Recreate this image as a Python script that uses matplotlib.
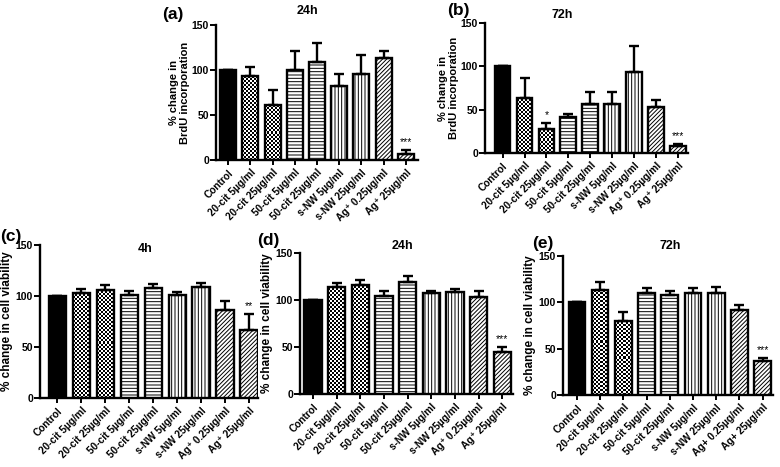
import numpy as np
import matplotlib
matplotlib.use('Agg')
import matplotlib.pyplot as plt

plt.rcParams['font.family'] = ['Liberation Sans', 'DejaVu Sans']
plt.rcParams['font.weight'] = 'bold'
plt.rcParams['hatch.linewidth'] = 0.7

groups = ['Control', '20-cit 5µg/ml', '20-cit 25µg/ml', '50-cit 5µg/ml', '50-cit 25µg/ml',
          's-NW 5µg/ml', 's-NW 25µg/ml', 'Ag⁺ 0.25µg/ml', 'Ag⁺ 25µg/ml']
groups_e = ['Control', '20-cit 5µg/ml', '20-cit 25µg/ml', '50-cit 5µg/ml', '50-cit 25µg/ml',
            's-NW 5µg/ml', 's-NW 25µg/ml', 'Ag+ 0.25µg/ml', 'Ag+ 25µg/ml']

# BrdU incorporation
brdu_24 = [100, 93, 61, 100, 109, 82, 95, 113, 7]
brdu_24_err = [0, 10.5, 17, 21.5, 20.5, 14, 22, 8, 4]
brdu_24_sig = ['', '', '', '', '', '', '', '', '***']

brdu_72 = [100, 64, 28, 41, 56, 57, 94, 53, 8]
brdu_72_err = [0, 23, 6.5, 4.5, 14, 13, 30, 8, 2.5]
brdu_72_sig = ['', '', '*', '', '', '', '', '', '***']

# cell viability
via_4 = [100, 103, 106, 101, 107.5, 100.5, 109, 86, 67]
via_4_err = [0, 3.5, 5, 4, 4.5, 3.3, 4, 9, 15]
via_4_sig = ['', '', '', '', '', '', '', '', '**']

via_24 = [100, 114, 116, 104.5, 119.5, 107, 108.5, 103.5, 45]
via_24_err = [0, 4.6, 5, 5.4, 6.4, 3, 3.2, 6, 4.7]
via_24_sig = ['', '', '', '', '', '', '', '', '***']

via_72 = [100, 113, 80, 110.5, 108, 110, 110, 92, 37]
via_72_err = [0, 9, 10, 4.5, 4.5, 5, 6.5, 4.7, 3.4]
via_72_sig = ['', '', '', '', '', '', '', '', '***']

# fill style per group: 'solid', 'checker' or a hatch string
styles = ['solid', 'checker', 'checker', '-----', '-----', '|||||', '|||||', '////////', '////////']

W, H = 780, 467
fig = plt.figure(figsize=(W / 100, H / 100), dpi=100)


def rect(left, right, top, bottom):
    return [left / W, 1 - bottom / H, (right - left) / W, (bottom - top) / H]


def checker(ax, bar, cell=2.0):
    x0, w, h = bar.get_x(), bar.get_width(), bar.get_height()
    p0 = ax.transData.transform((x0, 0))
    p1 = ax.transData.transform((x0 + w, h))
    nx = max(1, int(round((p1[0] - p0[0]) / cell)))
    ny = max(1, int(round((p1[1] - p0[1]) / cell)))
    img = np.indices((ny, nx)).sum(axis=0) % 2
    im = ax.imshow(img, cmap='gray', extent=(x0, x0 + w, 0, h), aspect='auto',
                   interpolation='nearest', origin='lower', zorder=2)
    im.set_clip_path(bar)


def panel(box, xlim, vals, errs, sig, labels, ylabel, ylsize, title, tag, title_xy, tag_xy, labelpad):
    ax = fig.add_axes(box)
    ax.set_xlim(*xlim)
    ax.set_ylim(0, 150)
    x = np.arange(len(vals))
    for i, v in enumerate(vals):
        st = styles[i]
        if st == 'solid':
            b = ax.bar(x[i], v, 0.72, color='black', edgecolor='black', linewidth=1.7, zorder=3)
        elif st == 'checker':
            b = ax.bar(x[i], v, 0.72, facecolor='none', edgecolor='black', linewidth=1.7, zorder=3)
            checker(ax, b[0])
        else:
            b = ax.bar(x[i], v, 0.72, facecolor='white', edgecolor='black', linewidth=1.7,
                       hatch=st, zorder=3)
    ax.errorbar(x, vals, yerr=[np.zeros(len(vals)), errs], fmt='none', ecolor='black',
                elinewidth=1.7, capsize=3.5, capthick=1.7, zorder=4)
    for i, s in enumerate(sig):
        if s:
            ax.text(x[i], vals[i] + errs[i] + 3, s, ha='center', va='bottom',
                    fontsize=7.5, fontweight='normal')
    ax.set_xlim(*xlim)
    ax.set_ylim(0, 150)
    ax.set_yticks([0, 50, 100, 150])
    ax.set_xticks(x)
    ax.set_xticklabels(labels, rotation=45, ha='right', rotation_mode='anchor', fontsize=7.3)
    ax.tick_params(axis='y', labelsize=7.5, length=4, width=1.4, pad=1)
    ax.tick_params(axis='x', length=3.5, width=1.4, pad=2)
    for s in ['top', 'right']:
        ax.spines[s].set_visible(False)
    for s in ['left', 'bottom']:
        ax.spines[s].set_linewidth(1.7)
    ax.set_ylabel(ylabel, fontsize=ylsize, fontweight='bold', labelpad=labelpad, linespacing=1.2)
    fig.text(title_xy[0] / W, 1 - title_xy[1] / H, title, ha='center', va='center',
             fontsize=9, fontweight='bold')
    fig.text(tag_xy[0] / W, 1 - tag_xy[1] / H, tag, ha='center', va='center',
             fontsize=12.5, fontweight='bold')
    return ax


brdu_lab = '% change in\nBrdU incorporation'
via_lab = '% change in cell viability'

panel(rect(216, 418, 25, 160), (-0.55, 8.55), brdu_24, brdu_24_err, brdu_24_sig, groups,
      brdu_lab, 8, '24h', '(a)', (307, 11), (173, 14), 1)
panel(rect(485, 688, 23, 153), (-0.8, 8.45), brdu_72, brdu_72_err, brdu_72_sig, groups,
      brdu_lab, 8, '72h', '(b)', (562, 15), (458, 11), 1)
panel(rect(40, 258, 245, 398), (-0.73, 8.38), via_4, via_4_err, via_4_sig, groups,
      via_lab, 8.5, '4h', '(c)', (145, 249), (11, 236), 2)
panel(rect(300, 513, 253, 394), (-0.55, 8.45), via_24, via_24_err, via_24_sig, groups,
      via_lab, 8.5, '24h', '(d)', (402, 246), (268, 240), 2)
panel(rect(563, 773, 256, 395), (-0.6, 8.45), via_72, via_72_err, via_72_sig, groups_e,
      via_lab, 8.5, '72h', '(e)', (670, 246), (543, 243), 2)

plt.savefig('out.png', dpi=100)
